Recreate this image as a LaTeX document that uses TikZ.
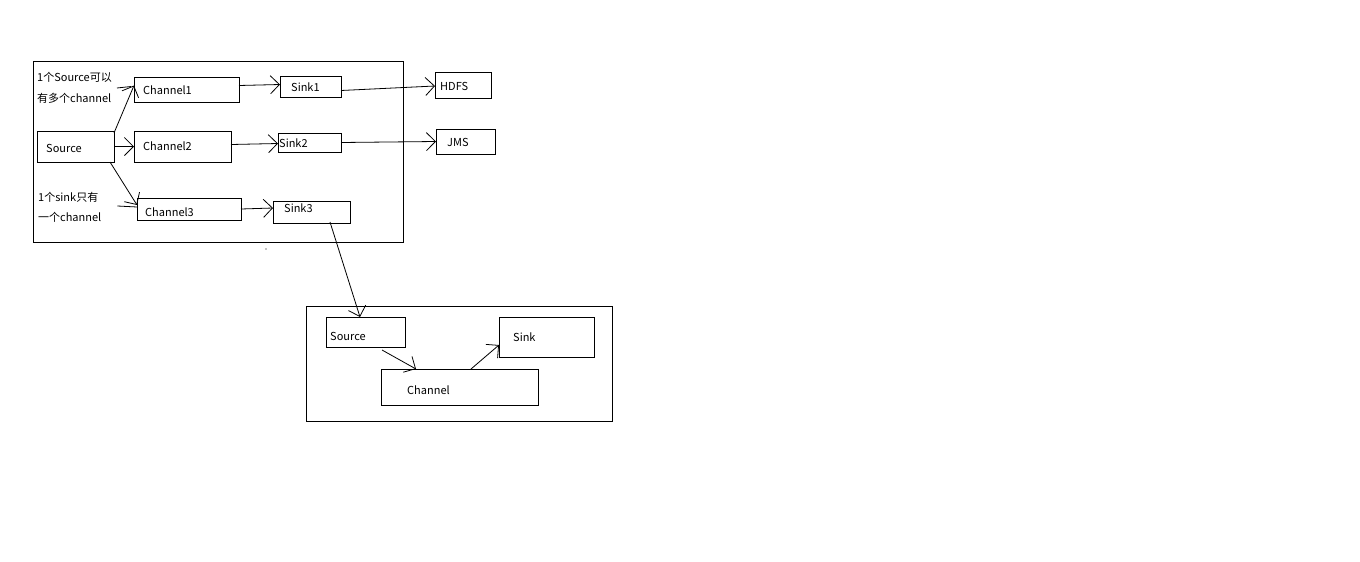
\documentclass[tikz,border=0pt]{standalone}
\usepackage{fontspec}
\setmainfont{Noto Sans CJK SC}
\usetikzlibrary{arrows.meta,calc}
\begin{document}
\begin{tikzpicture}[x=1pt,y=-1pt,
  box/.style={draw,line width=1pt,inner sep=0pt,outer sep=0pt,anchor=north west},
  txt/.style={inner sep=0pt,anchor=west,font=\fontsize{11}{13}\selectfont},
  arr/.style={line width=0.8pt,-{Straight Barb[length=9pt,width=18pt,line width=0.8pt]}},
  ln/.style={line width=0.8pt}]
\useasboundingbox[fill=white] (0,0) rectangle (1360,562);
% outer frames
\node[box,minimum width=370pt,minimum height=181pt] (frameA) at (33,61) {};
\node[box,minimum width=306pt,minimum height=115pt] (frameB) at (306,306) {};
% upper boxes
\node[box,minimum width=77pt,minimum height=31pt] (src) at (37,131) {};
\node[txt] (srcT) at (46,148) {Source};
\node[box,minimum width=105pt,minimum height=25pt] (ch1) at (134,77) {};
\node[txt] (ch1T) at (143,90) {Channel1};
\node[box,minimum width=97pt,minimum height=31pt] (ch2) at (134,131) {};
\node[txt] (ch2T) at (143,146) {Channel2};
\node[box,minimum width=104pt,minimum height=22pt] (ch3) at (137,198) {};
\node[txt] (ch3T) at (145,212) {Channel3};
\node[box,minimum width=61pt,minimum height=21pt] (sk1) at (280,76) {};
\node[txt] (sk1T) at (291,87) {Sink1};
\node[box,minimum width=63pt,minimum height=19pt] (sk2) at (278,133) {};
\node[txt] (sk2T) at (279,143) {Sink2};
\node[box,minimum width=77pt,minimum height=22pt] (sk3) at (273,201) {};
\node[txt] (sk3T) at (284,208) {Sink3};
\node[box,minimum width=56pt,minimum height=26pt] (hdfs) at (435,72) {};
\node[txt] (hdfsT) at (440,86) {HDFS};
\node[box,minimum width=59pt,minimum height=25pt] (jms) at (436,129) {};
\node[txt] (jmsT) at (447,142) {JMS};
% notes
\node[txt] (n1a) at (37,77) {1个Source可以};
\node[txt] (n1b) at (37,98) {有多个channel};
\node[txt] (n2a) at (38,197) {1个sink只有};
\node[txt] (n2b) at (38,217) {一个channel};
% lower boxes
\node[box,minimum width=79pt,minimum height=30pt] (src2) at (326,317) {};
\node[txt] (src2T) at (330,336) {Source};
\node[box,minimum width=95pt,minimum height=40pt] (sink) at (499,317) {};
\node[txt] (sinkT) at (513,337) {Sink};
\node[box,minimum width=157pt,minimum height=36pt] (chan) at (381,369) {};
\node[txt] (chanT) at (407,390) {Channel};
% small dot
\fill (266,249) circle (0.7pt);
% connectors
\coordinate (a1) at ($(src.north east)+(0,2)$);
\draw[arr] (a1) -- ($(ch1.west)+(0,-4)$);
\draw[ln] ($(n1a.east)+(5,11)$) -- ($(ch1.west)+(-3,-3)$);
\draw[arr] (src.east) -- (ch2.west);
\draw[arr] ($(src.south east)+(-4,0)$) -- ($(ch3.west)+(0,-4)$);
\draw[ln] ($(n2a.east)+(19,9)$) -- ($(ch3.west)+(0,-2)$);
\draw[arr] ($(ch1.east)+(0,-4)$) -- ($(sk1.west)+(0,-2)$);
\draw[arr] ($(ch2.east)+(0,-2)$) -- ($(sk2.west)+(0,1)$);
\draw[arr] (ch3.east) -- ($(sk3.west)+(0,-4)$);
\draw[arr] ($(sk1.east)+(0,4)$) -- ($(hdfs.west)+(0,1)$);
\draw[arr] (sk2.east) -- (jms.west);
\draw[arr] ($(sk3.south west)+(57,-1)$) -- ($(src2.north west)+(34,0)$);
\draw[arr] ($(src2.south west)+(56,3)$) -- ($(chan.north west)+(35,0)$);
\draw[arr] ($(chan.north west)+(90,0)$) -- ($(sink.west)+(0,8)$);
\end{tikzpicture}
\end{document}
